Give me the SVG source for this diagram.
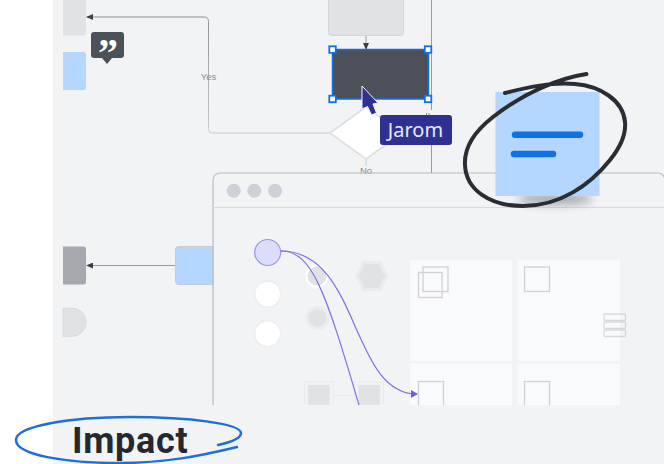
<svg xmlns="http://www.w3.org/2000/svg" width="664" height="464" viewBox="0 0 664 464">
<style>
.lab{font-family:"Liberation Sans",Arial,sans-serif;font-size:9.500px;fill:#8b8e93;text-anchor:middle}
.hd{fill:#fff;stroke:#1071e5;stroke-width:1.800}
.tile{fill:#f9fafc}
.sq{fill:none;stroke:#cfd1d5;stroke-width:1.300}
.gr{fill:#e0e2e5}
.wc{fill:#fff;stroke:#eceef0;stroke-width:1.500}
.edge{fill:none;stroke:#999c9f;stroke-width:1}
.pur{fill:none;stroke:#7d72e6;stroke-width:1.200}
</style>
<defs>
<marker id="ah" markerWidth="7" markerHeight="6" refX="6" refY="3" orient="auto" markerUnits="userSpaceOnUse"><path d="M0 0L7 3L0 6Z" fill="#3d4046"/></marker>
<marker id="ap" markerWidth="7" markerHeight="8" refX="6" refY="4" orient="auto" markerUnits="userSpaceOnUse"><path d="M0 0L7 4L0 8Z" fill="#6a5ee8"/></marker>
<linearGradient id="yg" gradientUnits="userSpaceOnUse" x1="0" y1="17" x2="0" y2="133"><stop offset="0" stop-color="#8f9295"/><stop offset="1" stop-color="#c9cbcd"/></linearGradient>
<filter id="bl" x="-30%" y="-100%" width="160%" height="300%"><feGaussianBlur stdDeviation="4"/></filter>
<clipPath id="cp"><rect x="213" y="208" width="451" height="197"/></clipPath>
</defs>
<rect width="664" height="464" fill="#fff"/>
<rect x="53" width="611" height="464" fill="#f1f3f5"/>

<g id="connectors">
<path d="M330 133H213Q208.500 133 208.500 128.500V21.500Q208.500 17 204 17H87" fill="none" stroke="url(#yg)" stroke-width="1" marker-end="url(#ah)"/>
<path class="edge" d="M366 35V49" marker-end="url(#ah)"/>
<path class="edge" d="M431.500 0V110M431.500 145V173"/>
<path d="M426.500 113V115.500M429 113V115.500" stroke="#8b8e93" stroke-width="1" fill="none"/>
<path d="M366 159V166" stroke="#c9cbcd" stroke-width="1" fill="none"/>
<path class="edge" d="M175 265.500H87" marker-end="url(#ah)"/>
<text class="lab" x="208.500" y="80">Yes</text>
<text class="lab" x="366" y="174">No</text>
</g>

<g id="node-left-gray"><path d="M63 0H86V33Q86 35.500 83.500 35.500H63Z" fill="#e0e2e5"/></g>
<g id="node-left-blue"><path d="M63 52H83.500Q86 52 86 54.500V87.500Q86 90 83.500 90H63Z" fill="#b5d6fe"/></g>
<g id="node-comment"><path d="M94 32H121Q124 32 124 35V55Q124 58 121 58H112L107 64L102 58H94Q91 58 91 55V35Q91 32 94 32Z" fill="#4c5058"/><text x="108" y="66" font-family="Liberation Serif,serif" font-weight="700" font-size="40" fill="#fff" text-anchor="middle">”</text></g>
<g id="node-top"><rect x="328.500" y="-6" width="75" height="41.500" rx="3" fill="#e0e2e5" stroke="#d2d4d8"/></g>
<g id="node-diamond"><path d="M366 107L402 133L366 159L330 133Z" fill="#fff" stroke="#dfe0e2" stroke-width="1.800"/></g>
<g id="node-selected">
<rect x="332.500" y="49.500" width="96" height="49.500" fill="#4c5058" stroke="#1a6fd6" stroke-width="1.500"/>
<rect class="hd" x="329.300" y="46.300" width="6.500" height="6.500"/><rect class="hd" x="424.800" y="46.300" width="6.500" height="6.500"/>
<rect class="hd" x="329.300" y="95.700" width="6.500" height="6.500"/><rect class="hd" x="424.800" y="95.700" width="6.500" height="6.500"/>
</g>
<g id="node-left-dark"><path d="M63 246.500H83.500Q86 246.500 86 249V282Q86 284.500 83.500 284.500H63Z" fill="#a5a8af"/></g>
<g id="node-left-d"><path d="M63 308H72A14 14 0 0 1 72 336.500H63Z" fill="#dfe1e4" stroke="#cfd1d5" stroke-width=".5"/></g>
<g id="node-blue"><path d="M213 246.500H178.500Q175.500 246.500 175.500 249.500V281.500Q175.500 284.500 178.500 284.500H213Z" fill="#b5d6fe" stroke="#c6ccd4"/></g>

<g id="node-window">
<path d="M213 405V181Q213 173 221 173H657Q664 173 665 180" fill="none" stroke="#b9bbbe" stroke-width="1.200"/>
<path d="M213 207.500H664" stroke="#d9dadc" stroke-width="1"/>
<circle cx="233.700" cy="190.700" r="7" fill="#ccd2d8"/><circle cx="254.300" cy="190.700" r="7" fill="#ccd2d8"/><circle cx="275" cy="190.700" r="7" fill="#ccd2d8"/>
</g>
<g id="node-tiles" clip-path="url(#cp)">
<rect class="tile" x="410" y="259.500" width="102" height="101.500"/><rect class="tile" x="517.500" y="259.500" width="102.500" height="101.500"/>
<rect class="tile" x="410" y="363.500" width="102" height="50"/><rect class="tile" x="517.500" y="363.500" width="102.500" height="50"/>
<rect class="sq" x="423" y="267" width="25" height="24.500"/><rect class="sq" x="418.500" y="272.500" width="23.500" height="25"/>
<rect class="sq" x="524.500" y="267" width="25" height="24.500"/>
<rect class="sq" x="604" y="314" width="21.500" height="6.500" rx="1" stroke-opacity=".8"/><rect class="sq" x="604" y="322" width="21.500" height="6.500" rx="1" stroke-opacity=".8"/><rect class="sq" x="604" y="330" width="21.500" height="6.500" rx="1" stroke-opacity=".8"/>
<rect class="sq" x="418.500" y="381.500" width="25" height="40"/><rect class="sq" x="524.500" y="381.500" width="25" height="40"/>
</g>
<g id="node-shapes" clip-path="url(#cp)">
<circle class="wc" cx="267.700" cy="294" r="13"/><circle class="wc" cx="267.700" cy="333.700" r="13"/>
<circle class="gr" cx="317" cy="276" r="10.500" stroke="#fff" stroke-width="2"/>
<circle class="gr" cx="317.500" cy="318" r="10.500" stroke="#eaecee" stroke-width="3"/>
<path class="gr" d="M364 262.500H379.500L386.500 276L379.500 289.500H364L357 276Z" stroke="#e9ebed" stroke-width="3"/>
<path d="M333 395.500H355" stroke="#e8eaec" stroke-width="1"/>
<rect x="304.500" y="382" width="28.500" height="40" fill="none" stroke="#e8eaec"/><rect class="gr" x="308" y="385" width="21.500" height="30"/>
<rect x="355" y="382" width="28.500" height="40" fill="none" stroke="#e8eaec"/><rect class="gr" x="358.500" y="385" width="21.500" height="30"/>
</g>
<g id="node-start"><circle cx="267.700" cy="252.500" r="13" fill="#dcdcfb" stroke="#9b93e8" stroke-width="1.200"/></g>
<g id="flow-connectors">
<path class="pur" d="M281 251C360 251 350 394 417 394" marker-end="url(#ap)"/>
<path class="pur" d="M281 251C312 251 325 290 359 405"/>
</g>

<g id="node-cursor">
<rect x="380" y="115" width="72" height="30" rx="3" fill="#2e3192"/>
<text x="415.500" y="137" font-family="Noto Sans,sans-serif" font-size="20" fill="#e8e9f6" text-anchor="middle">Jarom</text>
<path d="M362 86L378 103L373 104L376.500 113L371.500 115L367.500 106.500L362 109Z" fill="#2e3192" stroke="#f4f5f7" stroke-width="1"/>
</g>

<g id="node-note">
<ellipse cx="555" cy="199" rx="38" ry="6" fill="#6c6f76" opacity=".55" filter="url(#bl)"/>
<rect x="495.500" y="92" width="104" height="104" fill="#b5d6fe"/>
<path d="M515 134.700H580" stroke="#1071e5" stroke-width="6.500" stroke-linecap="round"/>
<path d="M514 154H553" stroke="#1071e5" stroke-width="6.500" stroke-linecap="round"/>
</g>
<g id="scribble"><path d="M586.500 74C560 78 525 92 493 117C475 131 464 148 465 165C466 190 490 206 523 206C560 206 590 185 610 160C622 145 626 132 625 122C623 100 600 86 575 84C550 82 525 88 505 93" fill="none" stroke="#2a2d33" stroke-width="4" stroke-linecap="round"/></g>

<g id="node-impact">
<text x="72" y="453" font-family="Roboto,sans-serif" font-weight="700" font-size="36" letter-spacing=".7" fill="#25282d">Impact</text>
<path d="M237 447C200 456 165 463 120 463C65 463 16 455 16 440C16 426 70 417 130 417C190 417 241 424 241 433C241 438 232 442 218 445" fill="none" stroke="#1e6fd6" stroke-width="2.500" stroke-linecap="round"/>
</g>
</svg>
